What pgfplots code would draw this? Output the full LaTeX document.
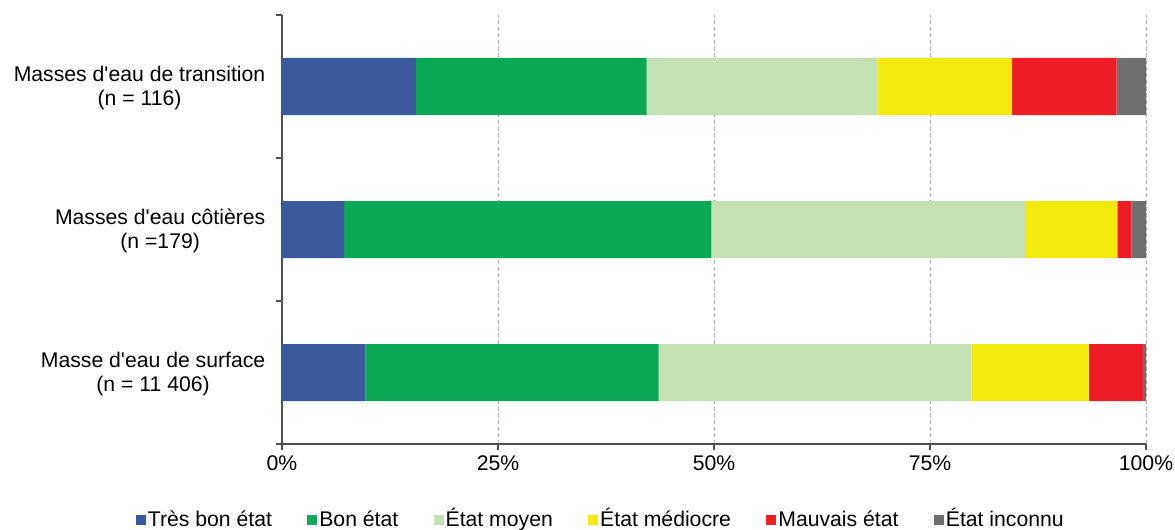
\documentclass[border=0pt]{standalone}
\usepackage{pgfplots}
\pgfplotsset{compat=1.18}
\usepackage{fontspec}
\setmainfont{Liberation Sans}
\definecolor{c1}{RGB}{58,89,156}
\definecolor{c2}{RGB}{11,168,88}
\definecolor{c3}{RGB}{197,224,180}
\definecolor{c4}{RGB}{243,234,14}
\definecolor{c5}{RGB}{238,28,37}
\definecolor{c6}{RGB}{111,111,111}
\definecolor{axc}{RGB}{80,80,80}
\newcommand\f{\fontsize{15.9}{18}\selectfont}
\newcommand\q{\textquotesingle}
\begin{document}
\begin{tikzpicture}[x=1pt,y=1pt]
\path[use as bounding box] (0,0) rectangle (881.25,396.75);
\begin{axis}[
  at={(211.5pt,63.75pt)}, anchor=south west,
  scale only axis, width=648pt, height=321.75pt,
  xbar stacked, bar width=42.75pt,
  xmin=0, xmax=100, ymin=-0.5, ymax=2.5,
  axis lines=left, axis line style={-, draw=axc, line width=0.9pt},
  tick align=outside, major tick length=4.5pt,
  tick style={draw=axc, line width=0.9pt},
  xtick={0,25,50,75,100},
  xticklabels={0\%,25\%,50\%,75\%,100\%},
  xmajorgrids, grid style={densely dashed, draw=black!30, line width=0.6pt},
  xticklabel style={font=\f, yshift=-1pt},
  ytick={-0.5,0.5,1.5,2.5}, yticklabels={},
  extra y ticks={0,1,2},
  extra y tick labels={{Masse d\q eau de surface\\(n = 11 406)},{Masses d\q eau côtières\\(n =179)},{Masses d\q eau de transition\\(n = 116)}},
  extra y tick style={tick style={draw=none}},
  yticklabel style={font=\f, align=center, xshift=-4.5pt, yshift=-1pt},
  legend style={at={(0.369,-0.179)}, anchor=center, draw=none, fill=none, font=\f,
    legend columns=6, /tikz/every even column/.append style={column sep=25pt},
    nodes={inner sep=1.5pt, text height=11.5pt, text depth=3pt}},
  legend image code/.code={\fill[#1] (0pt,-3.2pt) rectangle (7.5pt,4.3pt);},
]
\addplot[fill=c1, draw=none] coordinates {(9.65,0) (7.2,1) (15.5,2)};
\addplot[fill=c2, draw=none] coordinates {(33.95,0) (42.5,1) (26.7,2)};
\addplot[fill=c3, draw=none] coordinates {(36.2,0) (36.3,1) (26.7,2)};
\addplot[fill=c4, draw=none] coordinates {(13.6,0) (10.7,1) (15.6,2)};
\addplot[fill=c5, draw=none] coordinates {(6.25,0) (1.6,1) (12.1,2)};
\addplot[fill=c6, draw=none] coordinates {(0.35,0) (1.7,1) (3.4,2)};
\legend{Très bon état, Bon état, État moyen, État médiocre, Mauvais état, État inconnu}
\end{axis}
\end{tikzpicture}
\end{document}
